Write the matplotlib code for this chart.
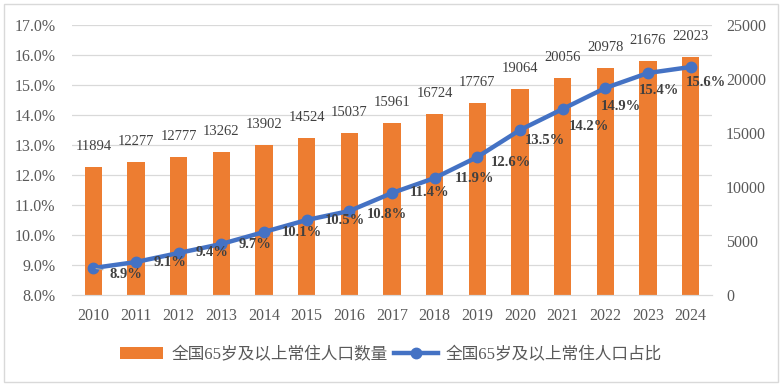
import matplotlib.pyplot as plt
import numpy as np
from matplotlib.patches import Rectangle
from matplotlib.ticker import FuncFormatter, MultipleLocator

plt.rcParams["font.family"] = ["Liberation Serif", "Noto Sans CJK SC", "DejaVu Sans"]

years = ["2010", "2011", "2012", "2013", "2014", "2015", "2016", "2017",
         "2018", "2019", "2020", "2021", "2022", "2023", "2024"]
counts = [11894, 12277, 12777, 13262, 13902, 14524, 15037, 15961,
          16724, 17767, 19064, 20056, 20978, 21676, 22023]
shares = [8.9, 9.1, 9.4, 9.7, 10.1, 10.5, 10.8, 11.4,
          11.9, 12.6, 13.5, 14.2, 14.9, 15.4, 15.6]
bar_name = "全国65岁及以上常住人口数量"
line_name = "全国65岁及以上常住人口占比"

# pixel offsets of the share labels from their points (Excel placed them by hand)
label_dx = [33, 34, 33, 34, 38, 38, 38, 38, 40, 34, 25, 26, 16, 11, 15]
label_dy = [-6, 0, 0, -1, -1, -1, -3, 0, 0, -6, -11, -18, -18, -18, -16]

orange = "#ED7D31"
blue = "#4472C4"
grey_text = "#595959"
dark_text = "#404040"
grid_c = "#D9D9D9"

fig = plt.figure(figsize=(7.82, 3.86), dpi=100)
ax = fig.add_axes([72 / 782, 1 - 295 / 386, 640 / 782, 270 / 386])
ax2 = ax.twinx()

x = np.arange(len(years))

ax.set_xlim(-0.5, len(years) - 0.5)
ax.set_ylim(8, 17)
ax.yaxis.set_major_locator(MultipleLocator(1))
ax.yaxis.set_major_formatter(FuncFormatter(lambda v, p: f"{v:.1f}%"))
ax2.set_ylim(0, 25000)
ax2.yaxis.set_major_locator(MultipleLocator(5000))

# gridlines follow the left axis but sit under the bars
for v in np.arange(9, 17.5, 1):
    ax2.plot([0, 1], [v, v], transform=ax.get_yaxis_transform(),
             color=grid_c, lw=0.9, zorder=0)

# bars on the secondary (right) axis
bars = ax2.bar(x, counts, width=0.4, color=orange, zorder=2, label=bar_name)
for xi, c in zip(x, counts):
    ax2.annotate(str(c), (xi, c), xytext=(0, 14), textcoords="offset pixels",
                 ha="center", va="bottom", fontsize=10.5, color=dark_text)

# line on the primary (left) axis, drawn above the bars
ax.set_zorder(ax2.get_zorder() + 1)
ax.patch.set_visible(False)
line, = ax.plot(x, shares, color=blue, lw=3.2, marker="o", ms=7.5,
                zorder=3, label=line_name)
for i, (xi, s) in enumerate(zip(x, shares)):
    kw = {}
    if i == 0:
        kw["arrowprops"] = dict(arrowstyle="-", color="#A6A6A6", lw=0.8,
                                shrinkA=3, shrinkB=2)
    ax.annotate(f"{s:.1f}%", (xi, s), xytext=(label_dx[i], label_dy[i]),
                textcoords="offset pixels", ha="center", va="center",
                fontsize=10.5, fontweight="bold", color=dark_text, zorder=4, **kw)

ax.set_xticks(x)
ax.set_xticklabels(years)

for a in (ax, ax2):
    for side in ("top", "left", "right"):
        a.spines[side].set_visible(False)
    a.spines["bottom"].set_color(grid_c)
    a.tick_params(length=0, labelsize=11.5, labelcolor=grey_text)
ax.tick_params(axis="x", pad=9)
ax.tick_params(axis="y", pad=12)
ax2.tick_params(axis="y", pad=10)

fig.legend([bars, line], [bar_name, line_name], loc="center",
           bbox_to_anchor=(0.5, 1 - 355 / 386), ncol=2, frameon=False,
           fontsize=12, labelcolor=grey_text, handlelength=2.6,
           handletextpad=0.5, columnspacing=0.4)

fig.patches.append(Rectangle((4 / 782, 4 / 386), 774 / 782, 378 / 386,
                             transform=fig.transFigure, fill=False,
                             edgecolor=grid_c, lw=1))

fig.savefig("out.png", dpi=100)
